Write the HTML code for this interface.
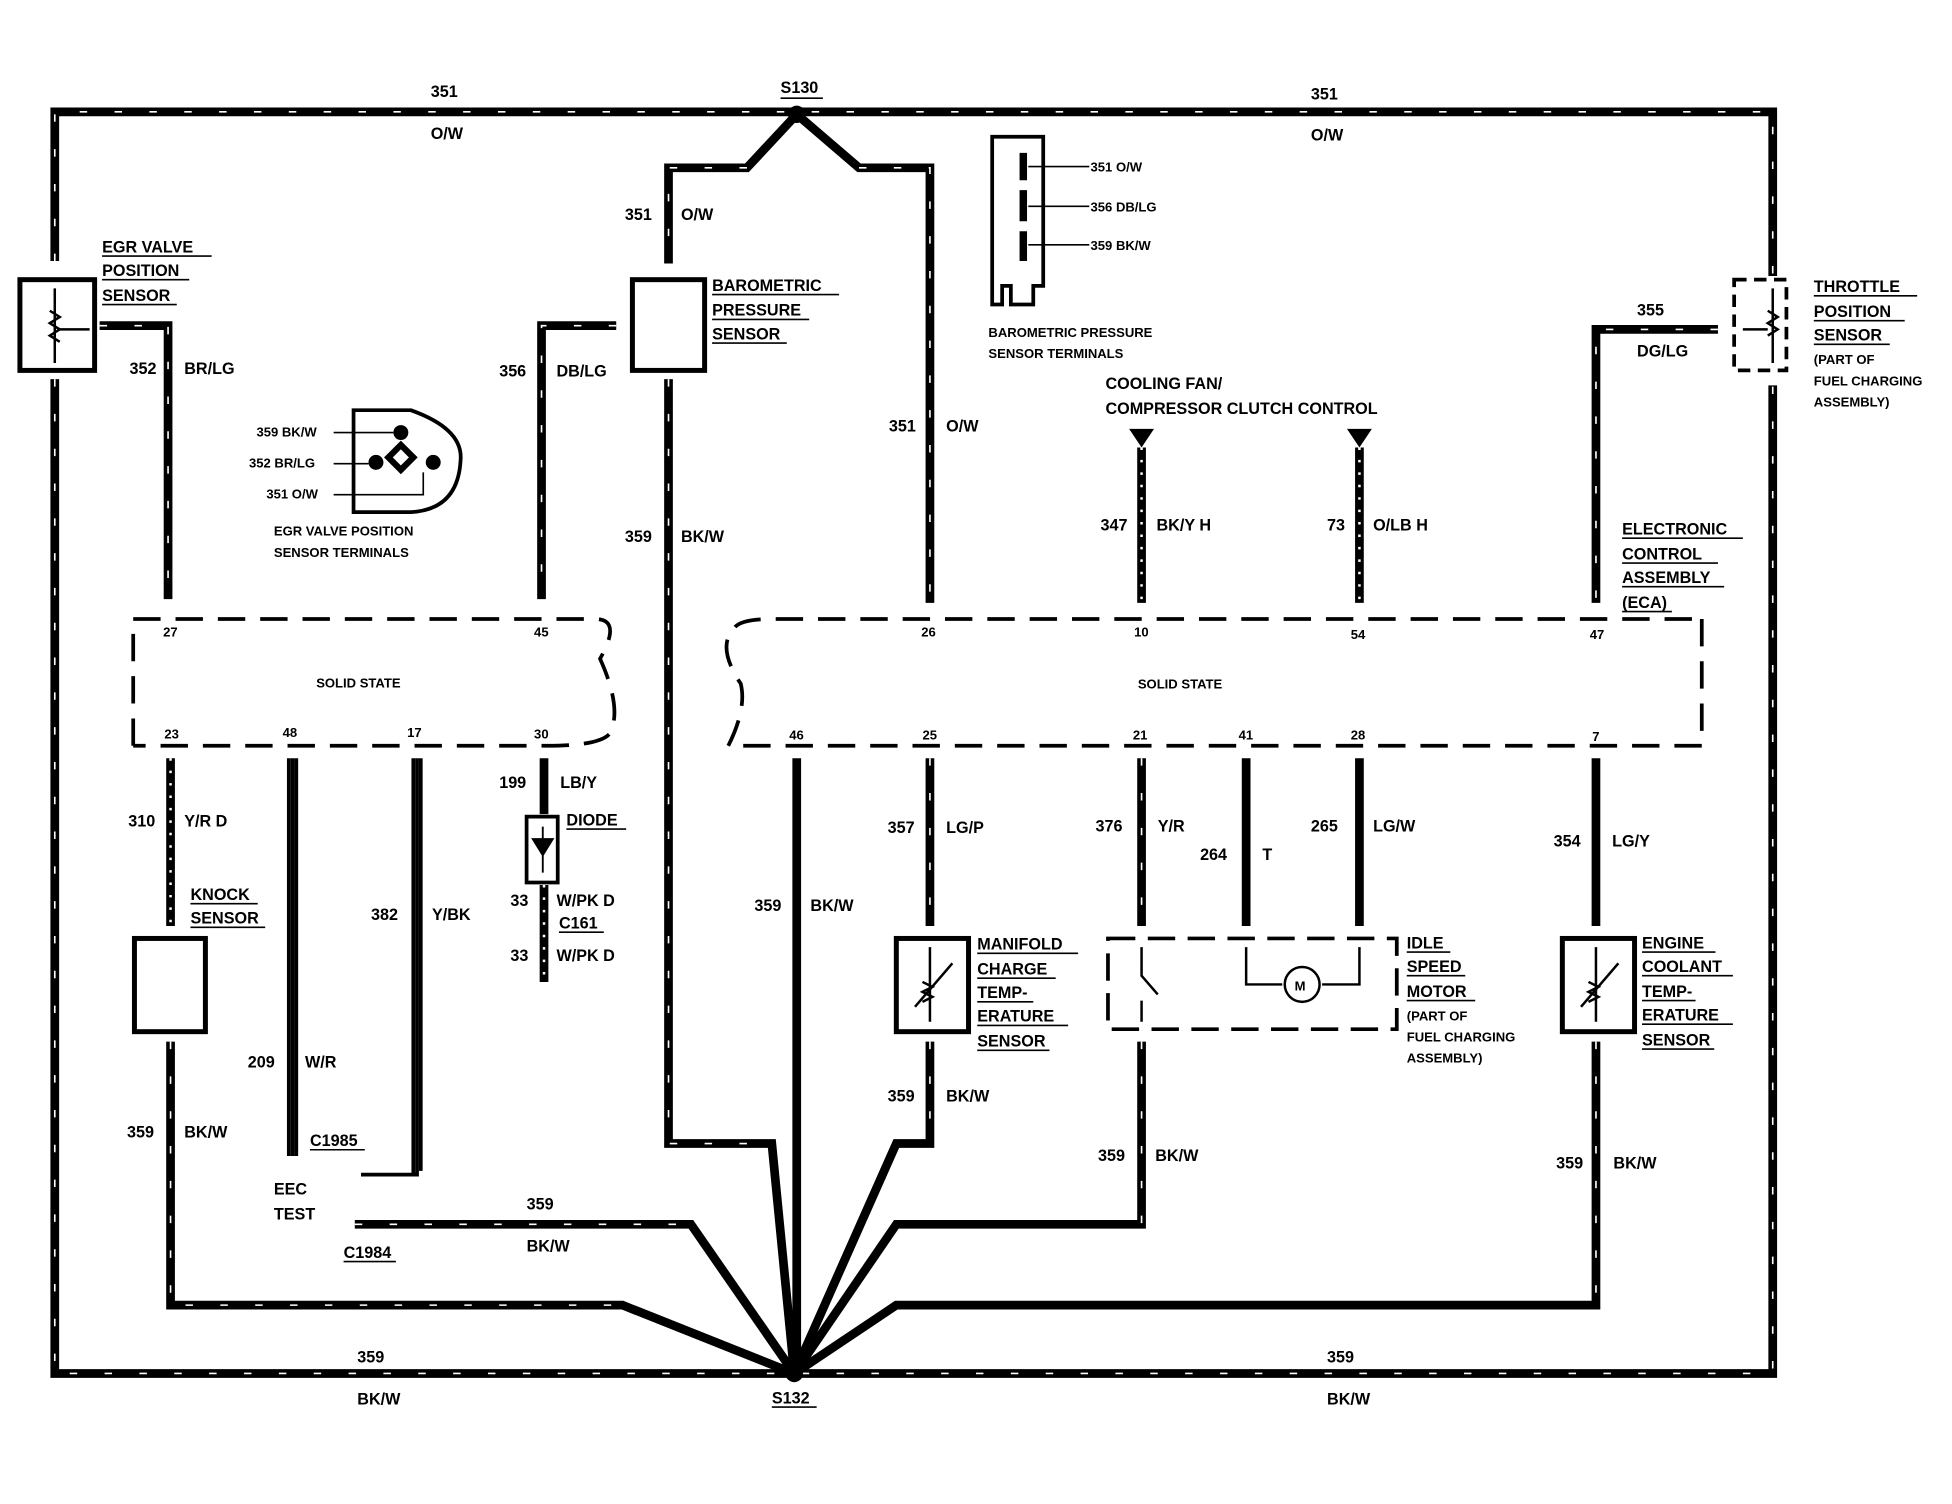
<!DOCTYPE html>
<html><head><meta charset="utf-8"><style>
html,body{margin:0;padding:0;background:#fff;}
svg{display:block;}
text{font-family:"Liberation Sans",sans-serif;font-weight:bold;font-size:13px;fill:#000;}
.s{font-size:10.5px;}
.w{fill:none;stroke:#000;stroke-width:7;stroke-linejoin:miter;}
.h{fill:none;stroke:#fff;stroke-width:1.3;stroke-dasharray:6 22;}
.t{fill:none;stroke:#000;stroke-width:3;}
.d{fill:none;stroke:#000;stroke-width:3;stroke-dasharray:22 12;}
.u{stroke:#000;stroke-width:1.3;}
</style></head><body>
<svg width="1952" height="1504" viewBox="0 0 1568 1210" preserveAspectRatio="none" xmlns="http://www.w3.org/2000/svg">
<rect width="1568" height="1210" fill="#fff"/>
<g id="wires">
<path class="w" d="M44,210 V90 H1424 V222"/>
<path class="w" d="M44,305 V1105 H1424 V310"/>
<path class="w" d="M80,262 H135 V482"/>
<path class="w" d="M495,262 H435 V482"/>
<path class="w" d="M640,92 L600,135 H537 V212"/>
<path class="w" d="M640,92 L690,135 H747 V485"/>
<path class="w" d="M537,305 V920 H620 L638,1105"/>
<path class="w" d="M1380,265 H1282 V485"/>
<path class="w" d="M917,360 V485"/>
<path class="w" d="M1092,360 V485"/>
<path class="w" d="M137,610 V745"/>
<path class="w" d="M137,838 V1050 H500 L638,1105"/>
<path class="t" d="M235,610 V930"/>
<path class="t" d="M335,610 V945 H290"/>
<path class="t" d="M232,610 V930 M238,610 V930 M332,610 V945 M338,610 V942"/>
<path class="w" d="M285,985 H555 L638,1105"/>
<path class="w" d="M437,610 V655"/>
<path class="w" d="M437,712 V790"/>
<path class="w" d="M640,610 V1105"/>
<path class="w" d="M747,610 V745"/>
<path class="w" d="M747,838 V920 H720 L638,1105"/>
<path class="w" d="M917,610 V745"/>
<path class="w" d="M1001,610 V745"/>
<path class="w" d="M1092,610 V745"/>
<path class="w" d="M917,838 V985 H720 L638,1105"/>
<path class="w" d="M1282,610 V745"/>
<path class="w" d="M1282,838 V1050 H720 L638,1105"/>
</g>
<g>
<path class="h" d="M44,210 V90 H1424 V222"/>
<path class="h" d="M44,305 V1105 H1424 V310"/>
<path class="h" d="M80,262 H135 V482"/>
<path class="h" d="M495,262 H435 V482"/>
<path class="h" d="M600,135 H537 V212"/>
<path class="h" d="M690,135 H747 V485"/>
<path class="h" d="M537,305 V920 H620"/>
<path class="h" d="M1380,265 H1282 V485"/>
<path class="h" d="M137,838 V1050 H500"/>
<path class="h" d="M285,985 H555"/>
<path class="h" d="M747,838 V920"/>
<path class="h" d="M917,838 V985"/>
<path class="h" d="M1282,838 V1050"/>
<path class="h" d="M747,610 V745 M917,610 V745"/>
<path fill="none" stroke="#fff" stroke-width="2" stroke-dasharray="2 8" d="M137,610 V745 M917,360 V485 M1092,360 V485 M437,712 V790"/>
</g>
<circle cx="640" cy="92" r="7"/>
<circle cx="638" cy="1105" r="7"/>
<!-- sensors -->
<rect x="16" y="225" width="60" height="73" fill="#fff" stroke="#000" stroke-width="4"/>
<path d="M44,232 V292 M40,250 l8,5 -8,5 8,5 -8,5 8,5 M48,265 H72" stroke="#000" stroke-width="2" fill="none"/>
<rect x="508" y="225" width="58" height="73" fill="#fff" stroke="#000" stroke-width="4"/>
<rect x="1393" y="225" width="42" height="73" fill="#fff" stroke="#000" stroke-width="3" stroke-dasharray="10 6"/>
<path d="M1424,232 V292 M1420,250 l8,5 -8,5 8,5 -8,5 M1400,265 H1420" stroke="#000" stroke-width="2" fill="none"/>
<rect x="108" y="755" width="57" height="75" fill="#fff" stroke="#000" stroke-width="4"/>
<rect x="720" y="755" width="58" height="75" fill="#fff" stroke="#000" stroke-width="4"/>
<rect x="1255" y="755" width="58" height="75" fill="#fff" stroke="#000" stroke-width="4"/>
<path d="M747,762 V822 M735,810 L765,775 M741,790 l8,4 -8,4 8,4 -8,4" stroke="#000" stroke-width="2" fill="none"/>
<path d="M1282,762 V822 M1270,810 L1300,775 M1276,790 l8,4 -8,4 8,4 -8,4" stroke="#000" stroke-width="2" fill="none"/>
<rect x="890" y="755" width="232" height="73" fill="none" stroke="#000" stroke-width="3" stroke-dasharray="22 10"/>
<path d="M917,762 V785 L930,800 M917,805 V822 M1001,762 V792 H1030 M1062,792 H1092 V762" stroke="#000" stroke-width="2" fill="none"/>
<circle cx="1046" cy="792" r="14" fill="#fff" stroke="#000" stroke-width="2"/>
<text x="1040" y="797" class="s">M</text>
<rect x="423" y="657" width="25" height="53" fill="#fff" stroke="#000" stroke-width="3"/>
<path d="M436,665 V702 M428,675 H444 L436,688 Z" stroke="#000" stroke-width="1.5"/>
<!-- ECA -->
<path class="d" d="M107,600 V498 H478 Q500,498 482,530 Q500,570 490,590 Q482,600 440,600 H107"/>
<path class="d" d="M1367,498 V600 H585 Q600,570 595,550 Q575,520 590,505 Q595,498 620,498 H1367"/>
<text x="254" y="553" class="s">SOLID STATE</text>
<text x="914" y="554" class="s">SOLID STATE</text>
<g class="s">
<text x="131" y="512" class="s">27</text><text x="429" y="512" class="s">45</text><text x="740" y="512" class="s">26</text><text x="911" y="512" class="s">10</text><text x="1085" y="514" class="s">54</text><text x="1277" y="514" class="s">47</text>
<text x="132" y="594" class="s">23</text><text x="227" y="593" class="s">48</text><text x="327" y="593" class="s">17</text><text x="429" y="594" class="s">30</text><text x="634" y="595" class="s">46</text><text x="741" y="595" class="s">25</text><text x="910" y="595" class="s">21</text><text x="995" y="595" class="s">41</text><text x="1085" y="595" class="s">28</text><text x="1279" y="596" class="s">7</text>
</g>
<!-- triangles -->
<path d="M907,345 H927 L917,360 Z M1082,345 H1102 L1092,360 Z"/>
<!-- baro terminals -->
<path d="M797,110 H838 V230 H830 V245 H812 V230 H805 V245 H797 Z" fill="#fff" stroke="#000" stroke-width="3"/>
<path d="M822,123 V145 M822,153 V178 M822,186 V210" stroke="#000" stroke-width="6"/>
<path d="M826,134 H875 M826,166 H875 M826,197 H875" stroke="#000" stroke-width="1.3"/>
<text x="876" y="138" class="s">351 O/W</text><text x="876" y="170" class="s">356 DB/LG</text><text x="876" y="201" class="s">359 BK/W</text>
<text x="794" y="271" class="s">BAROMETRIC PRESSURE</text><text x="794" y="288" class="s">SENSOR TERMINALS</text>
<!-- EGR terminals -->
<path d="M284,330 H330 Q372,345 370,370 Q368,410 330,412 H284 Z" fill="#fff" stroke="#000" stroke-width="3"/>
<circle cx="322" cy="348" r="6"/><circle cx="302" cy="372" r="6"/><circle cx="348" cy="372" r="6"/>
<path d="M312,368 L322,358 332,368 322,378 Z" fill="none" stroke="#000" stroke-width="5"/>
<path d="M268,348 H316 M268,373 H296 M268,398 H340 V380" stroke="#000" stroke-width="1.3" fill="none"/>
<text x="206" y="351" class="s">359 BK/W</text><text x="200" y="376" class="s">352 BR/LG</text><text x="214" y="401" class="s">351 O/W</text>
<text x="220" y="431" class="s">EGR VALVE POSITION</text><text x="220" y="448" class="s">SENSOR TERMINALS</text>
<!-- labels -->
<text x="346" y="78">351</text><text x="346" y="112">O/W</text>
<text x="627" y="75">S130</text><path class="u" d="M627,79 H661"/>
<text x="1053" y="80">351</text><text x="1053" y="113">O/W</text>
<text x="82" y="203">EGR VALVE</text><text x="82" y="222">POSITION</text><text x="82" y="242">SENSOR</text>
<path class="u" d="M82,206 H170 M82,225 H152 M82,245 H142"/>
<text x="502" y="177">351</text><text x="547" y="177">O/W</text>
<text x="572" y="234">BAROMETRIC</text><text x="572" y="254">PRESSURE</text><text x="572" y="273">SENSOR</text>
<path class="u" d="M572,237 H674 M572,257 H650 M572,276 H632"/>
<text x="104" y="301">352</text><text x="148" y="301">BR/LG</text>
<text x="401" y="303">356</text><text x="447" y="303">DB/LG</text>
<text x="714" y="347">351</text><text x="760" y="347">O/W</text>
<text x="502" y="436">359</text><text x="547" y="436">BK/W</text>
<text x="888" y="313">COOLING FAN/</text><text x="888" y="333">COMPRESSOR CLUTCH CONTROL</text>
<text x="884" y="427">347</text><text x="929" y="427">BK/Y H</text>
<text x="1066" y="427">73</text><text x="1103" y="427">O/LB H</text>
<text x="1315" y="254">355</text><text x="1315" y="287">DG/LG</text>
<text x="1457" y="235">THROTTLE</text><text x="1457" y="255">POSITION</text><text x="1457" y="274">SENSOR</text>
<path class="u" d="M1457,238 H1540 M1457,258 H1530 M1457,277 H1518"/>
<text x="1457" y="293" class="s">(PART OF</text><text x="1457" y="310" class="s">FUEL CHARGING</text><text x="1457" y="327" class="s">ASSEMBLY)</text>
<text x="1303" y="430">ELECTRONIC</text><text x="1303" y="450">CONTROL</text><text x="1303" y="469">ASSEMBLY</text><text x="1303" y="489">(ECA)</text>
<path class="u" d="M1303,433 H1400 M1303,453 H1380 M1303,472 H1385 M1303,492 H1343"/>
<text x="103" y="665">310</text><text x="148" y="665">Y/R D</text>
<text x="153" y="724">KNOCK</text><text x="153" y="743">SENSOR</text><path class="u" d="M153,727 H207 M153,746 H213"/>
<text x="401" y="634">199</text><text x="450" y="634">LB/Y</text>
<text x="455" y="664">DIODE</text><path class="u" d="M455,667 H503"/>
<text x="410" y="729">33</text><text x="447" y="729">W/PK D</text>
<text x="449" y="747">C161</text><path class="u" d="M449,750 H485"/>
<text x="410" y="773">33</text><text x="447" y="773">W/PK D</text>
<text x="298" y="740">382</text><text x="347" y="740">Y/BK</text>
<text x="199" y="859">209</text><text x="245" y="859">W/R</text>
<text x="249" y="922">C1985</text><path class="u" d="M249,925 H293"/>
<text x="220" y="961">EEC</text><text x="220" y="981">TEST</text>
<text x="276" y="1012">C1984</text><path class="u" d="M276,1015 H318"/>
<text x="423" y="973">359</text><text x="423" y="1007">BK/W</text>
<text x="102" y="915">359</text><text x="148" y="915">BK/W</text>
<text x="606" y="733">359</text><text x="651" y="733">BK/W</text>
<text x="713" y="670">357</text><text x="760" y="670">LG/P</text>
<text x="785" y="764">MANIFOLD</text><text x="785" y="784">CHARGE</text><text x="785" y="803">TEMP-</text><text x="785" y="822">ERATURE</text><text x="785" y="842">SENSOR</text>
<path class="u" d="M785,767 H866 M785,787 H848 M785,806 H830 M785,825 H858 M785,845 H843"/>
<text x="713" y="886">359</text><text x="760" y="886">BK/W</text>
<text x="880" y="669">376</text><text x="930" y="669">Y/R</text>
<text x="964" y="692">264</text><text x="1014" y="692">T</text>
<text x="1053" y="669">265</text><text x="1103" y="669">LG/W</text>
<text x="1130" y="763">IDLE</text><text x="1130" y="782">SPEED</text><text x="1130" y="802">MOTOR</text>
<path class="u" d="M1130,766 H1165 M1130,785 H1177 M1130,805 H1185"/>
<text x="1130" y="821" class="s">(PART OF</text><text x="1130" y="838" class="s">FUEL CHARGING</text><text x="1130" y="855" class="s">ASSEMBLY)</text>
<text x="882" y="934">359</text><text x="928" y="934">BK/W</text>
<text x="1248" y="681">354</text><text x="1295" y="681">LG/Y</text>
<text x="1319" y="763">ENGINE</text><text x="1319" y="782">COOLANT</text><text x="1319" y="802">TEMP-</text><text x="1319" y="821">ERATURE</text><text x="1319" y="841">SENSOR</text>
<path class="u" d="M1319,766 H1378 M1319,785 H1392 M1319,805 H1362 M1319,824 H1392 M1319,844 H1377"/>
<text x="1250" y="940">359</text><text x="1296" y="940">BK/W</text>
<text x="287" y="1096">359</text><text x="287" y="1130">BK/W</text>
<text x="1066" y="1096">359</text><text x="1066" y="1130">BK/W</text>
<text x="620" y="1129">S132</text><path class="u" d="M620,1132 H656"/>
</svg>
</body></html>
